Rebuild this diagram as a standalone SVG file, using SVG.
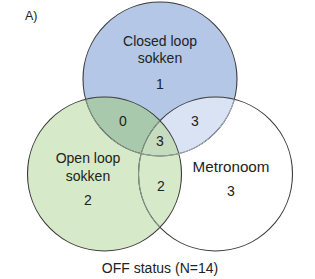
<svg xmlns="http://www.w3.org/2000/svg" width="315" height="279" viewBox="0 0 315 279">
<style>
text{font-family:"Liberation Sans",Arial,sans-serif;font-size:14px;fill:#222;text-anchor:middle}
.o{fill:none;stroke:#3a3a3a;stroke-width:1.1}
.f{fill:none;stroke:#8c9c8c;stroke-width:1}
</style>
<defs>
<clipPath id="cB"><circle cx="160" cy="79" r="77"/></clipPath>
<clipPath id="cG"><circle cx="104.5" cy="174" r="77"/></clipPath>
<clipPath id="cW"><circle cx="215.5" cy="174" r="77"/></clipPath>
</defs>
<rect width="315" height="279" fill="#fff"/>
<g id="regions">
<circle cx="160" cy="79" r="77" fill="#b4c7e7"/>
<circle cx="215.5" cy="174" r="77" fill="#dae3f3" clip-path="url(#cB)"/>
<circle cx="104.5" cy="174" r="77" fill="#d6e9c9"/>
<circle cx="160" cy="79" r="77" fill="#a9c9ad" clip-path="url(#cG)"/>
<g clip-path="url(#cG)"><circle cx="215.5" cy="174" r="77" fill="#c5dcbe" clip-path="url(#cB)"/></g>
</g>
<g id="outlines">
<circle class="o" cx="160" cy="79" r="77"/>
<circle class="o" cx="215.5" cy="174" r="77"/>
<circle class="o" cx="104.5" cy="174" r="77"/>
<g clip-path="url(#cW)">
<circle cx="160" cy="79" r="77" fill="none" stroke="#a8b4c8" stroke-width="1"/>
</g>
<g clip-path="url(#cG)">
<circle class="f" cx="160" cy="79" r="77"/>
<circle class="f" cx="215.5" cy="174" r="77"/>
</g>
</g>
<g id="node-closed-loop">
<text x="160" y="46">Closed loop</text>
<text x="160" y="63">sokken</text>
<text x="160" y="89">1</text>
</g>
<g id="node-open-loop">
<text x="88" y="163">Open loop</text>
<text x="88" y="181">sokken</text>
<text x="88" y="205">2</text>
</g>
<g id="node-metronoom">
<text x="231" y="172" textLength="77" lengthAdjust="spacingAndGlyphs">Metronoom</text>
<text x="231" y="196">3</text>
</g>
<g id="overlaps">
<text x="123" y="126">0</text>
<text x="195" y="126">3</text>
<text x="160" y="146">3</text>
<text x="161" y="191">2</text>
</g>
<text x="25" y="20" style="text-anchor:start;font-size:12.5px">A)</text>
<text x="160" y="273">OFF status (N=14)</text>
</svg>
